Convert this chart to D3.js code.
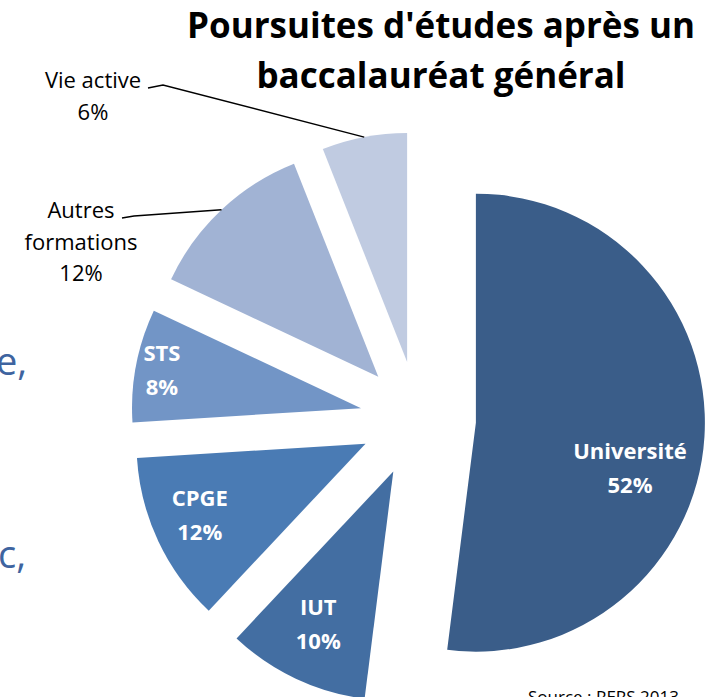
<!DOCTYPE html>
<html>
<head>
<meta charset="utf-8">
<script src="https://d3js.org/d3.v7.min.js"></script>
<style>
  body { margin: 0; background: #fff; }
  svg { display: block; font-family: "Open Sans", Lato, sans-serif; }
</style>
</head>
<body>
<script>
// data
var categories = ["Université", "IUT", "CPGE", "STS", "Autres formations", "Vie active"];
var values = [52, 10, 12, 8, 12, 6];
var colors = ["#3a5d89", "#436ea2", "#4a7bb4", "#7295c6", "#a1b3d4", "#c0cbe1"];

var width = 709, height = 697;
var cx = 418, cy = 419, radius = 229, explode = 58;

// label placement inside slices: [fraction of radius, angle shift in degrees]
var insideLabel = {
  "Université": [0.71, 15],
  "IUT": [0.77, 0],
  "CPGE": [0.8, 0],
  "STS": [0.88, -1.9]
};

var svg = d3.select("body").append("svg")
  .attr("width", width)
  .attr("height", height);

// cut-off text from the slide behind
svg.append("text").attr("x", -4).attr("y", 375)
  .attr("fill", "#3e64a0").style("font-size", "38px").text("e,");
svg.append("text").attr("x", -2).attr("y", 568)
  .attr("fill", "#3e64a0").style("font-size", "38px").text("c,");

var pie = d3.pie().sort(null).value(function(d) { return d; });
var arcs = pie(values);
var arc = d3.arc().innerRadius(0).outerRadius(radius);

function offset(d, dist, shift) {
  var a = (d.startAngle + d.endAngle) / 2 + (shift || 0) * Math.PI / 180;
  return [Math.sin(a) * dist, -Math.cos(a) * dist];
}

var g = svg.append("g").attr("transform", "translate(" + cx + "," + cy + ")");

var slice = g.selectAll(".slice")
  .data(arcs)
  .enter().append("g")
  .attr("class", "slice")
  .attr("transform", function(d) {
    var o = offset(d, explode);
    return "translate(" + o[0] + "," + o[1] + ")";
  });

slice.append("path")
  .attr("d", arc)
  .attr("fill", function(d, i) { return colors[i]; });

// labels inside slices
slice.filter(function(d, i) { return insideLabel[categories[i]] !== undefined; })
  .append("text")
  .attr("transform", function(d) {
    var p = insideLabel[categories[d.index]];
    var o = offset(d, radius * p[0], p[1]);
    return "translate(" + o[0] + "," + o[1] + ")";
  })
  .attr("text-anchor", "middle")
  .attr("fill", "#fff")
  .style("font-size", "22px")
  .style("font-weight", "bold")
  .each(function(d) {
    var t = d3.select(this);
    t.append("tspan").attr("x", 0).attr("y", -16).text(categories[d.index]);
    t.append("tspan").attr("x", 0).attr("y", 18).text(values[d.index] + "%");
  });

// outside labels with leader lines
var outside = [
  { name: "Vie active", lines: ["Vie active", "6%"], x: 93, y: 88, lead: [148, 88, 163, 85] },
  { name: "Autres formations", lines: ["Autres", "formations", "12%"], x: 81, y: 218, lead: [122, 218, 134, 216] }
];

outside.forEach(function(o) {
  var i = categories.indexOf(o.name);
  var d = arcs[i];
  var c = offset(d, explode);
  var e = offset(d, radius);
  var ex = cx + c[0] + e[0], ey = cy + c[1] + e[1];
  svg.append("path")
    .attr("d", "M" + o.lead[0] + "," + o.lead[1] + "L" + o.lead[2] + "," + o.lead[3] + "L" + ex + "," + ey)
    .attr("fill", "none")
    .attr("stroke", "#000")
    .attr("stroke-width", 1.4);
  var t = svg.append("text")
    .attr("text-anchor", "middle")
    .attr("fill", "#000")
    .style("font-size", "22px");
  o.lines.forEach(function(l, k) {
    t.append("tspan").attr("x", o.x).attr("y", o.y + k * 31.5).text(l);
  });
});

// title
var title = svg.append("text")
  .attr("text-anchor", "middle")
  .attr("fill", "#000")
  .style("font-size", "35px")
  .style("font-weight", "bold");
title.append("tspan").attr("x", 441).attr("y", 38).text("Poursuites d'études après un");
title.append("tspan").attr("x", 441).attr("y", 88).text("baccalauréat général");

// source (cut off at the bottom)
svg.append("text")
  .attr("x", 528).attr("y", 703)
  .attr("fill", "#000")
  .style("font-size", "17px")
  .text("Source : RERS 2013");
</script>
</body>
</html>
